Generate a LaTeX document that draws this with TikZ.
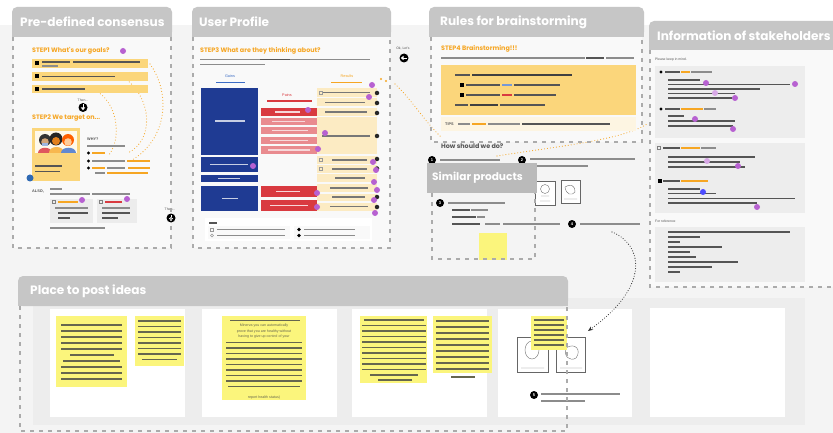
\documentclass[tikz,border=0pt]{standalone}
\usepackage{fontspec}
\setmainfont{Liberation Sans}
\newfontfamily\hfont{Poppins}
\usetikzlibrary{arrows.meta}

\definecolor{boardbg}{HTML}{F4F4F4}
\definecolor{paper}{HTML}{F9F9F9}
\definecolor{hdrgray}{HTML}{C6C6C6}
\definecolor{simgray}{HTML}{BABABA}
\definecolor{dashgray}{HTML}{ABABAB}
\definecolor{stepor}{HTML}{F6A623}
\definecolor{gold}{HTML}{FBD67B}
\definecolor{cream}{HTML}{FCEBC3}
\definecolor{tipcream}{HTML}{FDF5E2}
\definecolor{navy}{HTML}{1F3B93}
\definecolor{gainblue}{HTML}{3B6CC4}
\definecolor{redd}{HTML}{D93A40}
\definecolor{redl}{HTML}{E98B8F}
\definecolor{purp}{HTML}{B761D1}
\definecolor{sticky}{HTML}{FBF57C}
\definecolor{cardgray}{HTML}{ECECEC}
\definecolor{panelgray}{HTML}{EDEDED}
\definecolor{ink}{HTML}{66664E}
\definecolor{txt}{HTML}{8C8C8C}
\definecolor{txtd}{HTML}{555555}
\definecolor{dotblue}{HTML}{2F69B3}

% a blurred line of small print
\newcommand\tb[4][txt]{\fill[#1] (#2,{#3-0.95}) rectangle (#4,{#3+0.95});}
% grey frame tab with rounded top corners
\newcommand\hdrtab[5][hdrgray]{%
  \fill[#1,rounded corners=5pt] (#2,#3) rectangle (#4,#5);
  \fill[#1] (#2,{#3+10}) rectangle (#4,#5);}

\begin{document}
\begin{tikzpicture}[x=1pt,y=-1pt,
  hdrtxt/.style={text=white,anchor=west,inner sep=0pt,font=\hfont\bfseries\fontsize{12.1}{13}\selectfont},
  frame/.style={draw=dashgray,line width=1.3pt,dash pattern=on 4pt off 5pt},
  steptxt/.style={text=stepor,anchor=west,inner sep=0pt,font=\hfont\bfseries\fontsize{6.4}{7}\selectfont},
  tinytxt/.style={text=txtd,anchor=west,inner sep=0pt,font=\fontsize{3.4}{4}\selectfont},
  tinyb/.style={tinytxt,font=\bfseries\fontsize{3.8}{4}\selectfont},
  lbl/.style={inner sep=0pt,font=\fontsize{3.8}{4}\selectfont},
  pdot/.style={circle,fill=purp,inner sep=0pt,minimum size=6pt},
  kdot/.style={circle,fill=black,inner sep=0pt,minimum size=3.2pt},
  numdot/.style={circle,fill=black,inner sep=0pt,minimum size=8pt,text=white,font=\bfseries\fontsize{4}{4}\selectfont},
  odots/.style={draw=stepor,line width=1.1pt,dash pattern=on 0pt off 3pt,line cap=round},
  kdots/.style={draw=black!80,line width=1.1pt,dash pattern=on 0pt off 2.6pt,line cap=round},
  stick/.style={fill=sticky},
  card/.style={fill=white},
  sketch/.style={draw=black!60,fill=white,line width=.5pt}]
\useasboundingbox (0,0) rectangle (833,433);
\fill[white] (0,0) rectangle (833,433);
\fill[boardbg] (0,25) rectangle (833,433);

% ================= Pre-defined consensus =================
\fill[paper] (13,37) rectangle (171,248);
\hdrtab{12}{7}{172}{37}
\node[hdrtxt] (hPre) at (20,22) {Pre-defined consensus};

\draw[odots] (150,64) .. controls (172,95) and (166,140) .. (132,160);
\draw[odots] (127,80) .. controls (152,100) and (154,140) .. (128,153);
\draw[odots] (98,92) .. controls (118,105) and (122,140) .. (108,156);

\node[steptxt] (s1) at (32,51) {STEP1 What's our goals?};
\node[pdot] (p1) at (123,51) {};
\fill[gold] (32,59) rectangle (148,68);
\fill[gold] (32,72) rectangle (148,81);
\fill[gold] (32,85) rectangle (148,93);
\foreach \yy in {63.5,76.5,89}{\fill[black] (35,{\yy-2}) rectangle (39,{\yy+2});}
\tb[txtd]{42}{62}{70}\tb[txtd]{73}{62}{140}\tb{42}{66}{58}
\tb[txtd]{42}{76.5}{115}
\tb[txtd]{42}{89}{85}

\node[tinytxt,anchor=center] (then1) at (83,100) {Then...};
\node[circle,fill=black,minimum size=9pt,inner sep=0pt] (go1) at (83,107.5) {};
\draw[white,line width=.8pt] (83,104.5) -- (83,108);
\fill[white] (80.8,107.5) -- (85.2,107.5) -- (83,110.3) -- cycle;

\node[steptxt] (s2) at (32,118) {STEP2 We target on...};
\fill[gold] (32,128) rectangle (80,181);
% three people
\fill[white!85!gold] (35,131) rectangle (77,153);
\fill[redd!85] (38,153) .. controls (38,146) and (52,146) .. (52,153) -- cycle;
\fill[stepor!80] (49,153) .. controls (49,145) and (64,145) .. (64,153) -- cycle;
\fill[gainblue!80] (61,153) .. controls (61,146) and (76,146) .. (76,153) -- cycle;
\fill[black!80] (45,140) circle (6);
\fill[black!85] (56,139) circle (6.5);
\fill[orange!75!red] (68,140) circle (6);
\fill[brown!70] (45,142) circle (3.8);
\fill[brown!45!orange] (56,141) circle (4);
\fill[orange!40!white] (68,142) circle (3.8);
\fill[gainblue!50] (42,143) rectangle (48,146);
\tb[txtd]{35}{166}{62}\tb[txtd]{35}{171.5}{60}
\node[circle,fill=dotblue,inner sep=0pt,minimum size=7pt] (bd) at (30,178) {};

\node[tinyb,anchor=west] (why) at (87,139) {WHY?};
\tb{87}{146}{125}
\node[kdot] (w1) at (88.5,153) {};\tb[stepor]{92}{153}{105}
\node[kdot] (w2) at (88.5,161) {};\tb{92}{161}{125}\tb[stepor]{127}{161}{150}
\node[kdot] (w3) at (88.5,168) {};\tb[stepor]{92}{168}{105}\tb{107}{168}{125}\tb[stepor]{128}{168}{150}
\tb{95}{173}{105}\tb[stepor]{107}{173}{148}

\node[tinyb] (also) at (32,191) {ALSO,};
\tb{50}{189}{62}\tb{50}{194}{90}\tb{92}{194}{130}
\fill[cardgray] (50,199) rectangle (93,223);
\fill[cardgray] (97,199) rectangle (137,223);
\draw[black!50,line width=.4pt] (52.5,200.5) rectangle (55.5,203.5);
\draw[black!50,line width=.4pt] (99.5,200.5) rectangle (102.5,203.5);
\tb[stepor]{58}{202}{78}\tb[redd]{105}{202}{122}
\node[pdot] (p2) at (82,200) {};
\node[pdot] (p3) at (127,199) {};
\tb{55}{208}{88}\tb[txtd]{58}{213}{88}\tb[txtd]{58}{218}{70}
\tb{102}{208}{130}\tb[txtd]{102}{213}{130}\tb[txtd]{102}{218}{118}
\tb{50}{228}{105}

\node[tinytxt,anchor=center] (then2) at (170,209) {Then...};
\node[circle,fill=black,minimum size=9pt,inner sep=0pt] (go2) at (171,218) {};
\draw[white,line width=.8pt] (171,215) -- (171,218.5);
\fill[white] (168.8,218) -- (173.2,218) -- (171,220.8) -- cycle;

\draw[frame] (13,37) -- (13,248) -- (171,248) -- (171,37);

% ================= User Profile =================
\fill[paper] (193,37) rectangle (390,248);
\hdrtab{192}{7}{391}{37}
\node[hdrtxt] (hUser) at (199,22) {User Profile};

\node[steptxt] (s3) at (200,51) {STEP3 What are they thinking about?};
\tb{200}{59.5}{260}\tb[txtd]{260}{59.5}{290}\tb{290}{59.5}{370}\tb{200}{64.5}{265}

\node[lbl,text=gainblue] (gains) at (230,76) {Gains};
\tb[gainblue]{216}{82.5}{245}
\fill[navy] (201,88) rectangle (258,155);
\fill[navy] (201,157) rectangle (258,172);
\fill[navy] (201,175) rectangle (258,182);
\fill[navy] (201,186) rectangle (258,211);
\tb[white!75!navy]{215}{121}{245}
\tb[white!75!navy]{210}{164.5}{248}
\tb[white!75!navy]{218}{178.5}{240}
\tb[white!75!navy]{222}{198.5}{238}

\node[lbl,text=redd] (pains) at (287,95) {Pains};
\tb[redd]{267}{101}{312}
\fill[redd] (261,108) rectangle (317,116);
\foreach \ya/\yb in {118/125,127/134,137/144,146/154}{\fill[redl] (261,\ya) rectangle (317,\yb);}
\fill[redd] (261,186) rectangle (317,197);
\fill[redd] (261,200) rectangle (317,211);
\foreach \yy/\a/\b in {112/275/300,121.5/272/305,130.5/272/308,140.5/270/308,150/268/310,191.5/276/300,205.5/270/308}{\tb[white!80!redd]{\a}{\yy}{\b}}

\node[lbl,text=stepor] (results) at (347,76) {Results};
\tb[stepor]{331}{82.5}{362}
\foreach \ya/\yb in {88/97,98.5/106.5,108/116,117.5/154,156/164,165.5/173,174.5/182,184.5/192,193.5/201,202.5/210.5}{\fill[cream] (317,\ya) rectangle (377,\yb);}
\foreach \yy/\a/\b in {92.5/322/370,102.5/325/365,112/325/367,136/322/370,160/332/367,169/332/367,178/335/365,188/330/368,197/332/365,206.5/330/368}{\tb[txtd!80]{\a}{\yy}{\b}}
\foreach \yy in {92.5,160,169}{\draw[black!40,line width=.4pt] (319,{\yy-1.5}) rectangle (322,{\yy+1.5});}
\foreach \yy in {93,103,113,136,159,168.5,197,207}{\node[circle,fill=black!85,inner sep=0pt,minimum size=4.5pt] at (377,\yy) {};}
\foreach \px/\py in {372/85,369/97,308/110,325/133,253/166,373/162,376/170,374/182,377/190,374/200,375/213,317/193,317/207,318/149}{\node[pdot] at (\px,\py) {};}
\fill[stepor] (381,79) circle (1.1);\fill[stepor] (386,81) circle (1.1);

\fill[white] (205,218) rectangle (372,241);
\tb[txtd]{209}{223}{217}
\fill[paper] (208,226) rectangle (290,239);
\fill[paper] (294,226) rectangle (370,239);
\draw[black!40,line width=.4pt] (210.5,228) rectangle (213.5,231);
\draw[black!40,line width=.4pt] (212,235.5) circle (1.5);
\tb{217}{229.5}{285}\tb{217}{235.5}{285}
\node[kdot,minimum size=3.6pt] at (299,229.5) {};
\node[kdot,minimum size=3.6pt] at (299,235.5) {};
\tb{304}{229.5}{355}\tb{304}{235.5}{355}

\draw[frame] (193,37) -- (193,248) -- (390,248) -- (390,37);

\node[tinytxt,anchor=center] (ok) at (403,48) {Ok, Let's};
\node[circle,fill=black,minimum size=9pt,inner sep=0pt] (go3) at (404,58) {};
\draw[white,line width=.8pt] (406.5,58) -- (403,58);
\fill[white] (403.5,55.8) -- (403.5,60.2) -- (400.8,58) -- cycle;

% ================= Rules for brainstorming =================
\fill[paper] (431,37) rectangle (642,142);
\hdrtab{429}{7}{644}{37}
\node[hdrtxt] (hRules) at (440,22) {Rules for brainstorming};

\draw[odots] (395,84) .. controls (412,100) and (425,122) .. (442,138);
\draw[odots] (497,156) .. controls (560,146) and (622,140) .. (647,124);

\node[steptxt] (s4) at (441,49) {STEP4 Brainstorming!!!};
\tb{441}{58}{585}\tb[txtd]{586}{58}{604}\tb{606}{58}{634}
\fill[gold] (441,65) rectangle (636,115);
\tb[txtd]{455}{75}{470}\tb[black!75]{472}{75}{572}
\fill[black] (459.5,83) rectangle (463.5,87);
\tb[txtd]{466}{85}{500}\tb[gainblue!70]{502}{85}{512}\tb[txtd]{514}{85}{560}
\fill[black] (459.5,93) rectangle (463.5,97);
\tb[txtd]{466}{95}{500}\tb[redd]{502}{95}{512}\tb[txtd]{514}{95}{556}
\tb[txtd]{455}{105}{468}\tb[black!75]{470}{105}{498}\tb[txtd]{500}{105}{545}
\fill[tipcream] (441,117) rectangle (636,131);
\node[tinyb] (tips) at (445,124) {TIPS};
\tb{458}{124}{470}\tb[stepor]{472}{124}{486}\tb{488}{124}{520}\tb[txtd]{522}{124}{610}

\draw[frame] (431,37) -- (431,142) -- (642,142) -- (642,37);

\node[anchor=west,inner sep=0pt,text=txtd,font=\hfont\bfseries\fontsize{6.4}{7}\selectfont] (how) at (441,146) {How should we do?};
\node[numdot] (n1) at (432,160) {1};
\tb{440}{160}{500}
\node[numdot] (n2) at (522,160) {2};
\tb{530}{159}{635}\tb{530}{166}{588}

% two product sketches
\draw[sketch] (535,181) rectangle (555,205);
\draw[black!55,line width=.4pt] (545,189) circle (4.5) (541,196) -- (549,196) (540,201) -- (550,201);
\draw[sketch] (561,180) rectangle (580,203);
\draw[black!55,line width=.4pt] (565,187) .. controls (570,183) and (576,186) .. (575,192) .. controls (572,196) and (566,195) .. cycle (564,199) -- (577,199);

\node[numdot] (n4) at (572,224) {4};
\tb{580}{224}{640}
\coordinate (arrStart) at (612,232);
\coordinate (arrEnd) at (588,331);

% ================= Similar products =================
\fill[simgray] (427,163) rectangle (537,193);
\node[hdrtxt,font=\hfont\bfseries\fontsize{10.6}{11}\selectfont] (hSim) at (432,178) {Similar products};
\node[numdot] (n3) at (440,203) {3};
\tb{448}{203}{505}
\tb[txtd]{452}{210}{470}\tb{471}{210}{488}
\tb[txtd]{452}{217}{476}\tb{477}{217}{485}
\tb[txtd]{452}{224}{480}\tb{485}{224}{500}\tb{503}{224}{560}
\fill[sticky] (479,233) rectangle (507,260);
\draw[frame] (432,193) -- (432,259) -- (535,259) -- (535,193);

% ================= Information of stakeholders =================
\fill[paper] (650,50) rectangle (833,287);
\hdrtab{649}{21}{845}{50}
\node[hdrtxt] (hInfo) at (657,36) {Information of stakeholders};
\node[tinytxt] (keep) at (655,60) {Please keep in mind.};
\fill[panelgray] (655,66) rectangle (805,138);
\fill[panelgray] (655,143) rectangle (805,213);
\node[tinytxt] (forref) at (655,221) {For reference};
\fill[panelgray] (655,227) rectangle (805,282);

\node[kdot] at (661,72) {};
\tb[txtd]{665}{72}{680}\tb[stepor]{681}{72}{690}\tb{691}{72}{712}
\foreach \yy/\b in {80/700,84.5/790,89/760,93.5/735,98/732}{\tb[txtd]{668}{\yy}{\b}}
\node[kdot] at (661,109) {};
\tb[txtd]{665}{109}{680}\tb[stepor]{681}{109}{703}\tb{704}{109}{716}
\foreach \yy/\b in {116/684,121/735,126/733}{\tb[txtd]{668}{\yy}{\b}}
\foreach \px/\py in {706/83,795/84,735/98,695/119,733/129}{\node[pdot] at (\px,\py) {};}
\node[pdot,fill=purp!55] at (715,93) {};

\draw[black!50,line width=.4pt] (657.5,146.5) rectangle (660.5,149.5);
\tb[txtd]{663}{148}{680}\tb[stepor]{681}{148}{700}\tb{701}{148}{716}
\foreach \yy/\b in {157/755,162/740,167/745}{\tb[txtd]{668}{\yy}{\b}}
\node[pdot,fill=purp!55] at (707,161) {};
\node[pdot] at (738,166) {};
\fill[black] (658,179.5) rectangle (661.5,183);
\tb[txtd]{663}{181}{680}\tb[stepor]{681}{181}{708}
\foreach \yy/\b in {189/700,193.5/716,198.5/795,203/757}{\tb[txtd]{668}{\yy}{\b}}
\node[circle,fill=blue!70,inner sep=0pt,minimum size=6pt] at (703,192) {};
\node[pdot] at (757,207) {};

\foreach \yy/\b in {232/790,237/700,242/680,247/722,252/690,257/696,262/738,267/712,272/680}{\tb[txtd]{668}{\yy}{\b}}

\draw[frame] (650,50) -- (650,287) -- (833,287);

% ================= Place to post ideas =================
\fill[panelgray] (33,298) rectangle (805,425);
\hdrtab{18}{276}{568}{306}
\node[hdrtxt] (hPost) at (30,291) {Place to post ideas};

\fill[card] (50,309) rectangle (185,417);
\fill[card] (202,309) rectangle (337,417);
\fill[card] (352,309) rectangle (487,417);
\fill[card] (498,309) rectangle (632,417);
\fill[card] (650,308) rectangle (785,417);

% note by Lily
\fill[stick] (56,316) rectangle (127,387);
\foreach \yy/\a/\b in {325/61/122,331/61/122,337/61/122,343/61/122,349/61/122,355/70/114,361/63/120,367/61/122,373/61/122,379/61/122}{\tb[ink]{\a}{\yy}{\b}}
% note by Emma (1)
\fill[stick] (135,316) rectangle (184,366);
\foreach \yy/\a/\b in {321/138/181,326.5/138/181,332/138/181,337.5/138/181,343/138/181,348.5/138/181,354/138/181,359.5/142/177}{\tb[ink]{\a}{\yy}{\b}}
% note by Emma (2)
\fill[stick] (222,316) rectangle (306,400);
\tb[ink]{230}{320.5}{300}
\node[lbl,text=ink,font=\fontsize{3.6}{4}\selectfont] (c2) at (264,326) {Minerva you can automatically};
\node[lbl,text=ink,font=\fontsize{3.6}{4}\selectfont] (c3) at (264,331.5) {prove that you are healthy without};
\node[lbl,text=ink,font=\fontsize{3.6}{4}\selectfont] (c4) at (264,337) {having to give up control of your};
\foreach \yy/\a/\b in {342.5/226/302,348/226/302,353.5/226/302,359/226/302,364.5/226/302,370/226/302,375.5/226/302,381/226/302,386.5/228/300}{\tb[ink]{\a}{\yy}{\b}}
\node[lbl,text=ink,font=\fontsize{3.6}{4}\selectfont] (c5) at (264,398) {report health status)};
% note by Emma (3)
\fill[stick] (360,316) rectangle (427,383);
\foreach \yy/\a/\b in {320/364/424,325.5/362/426,331/362/426,336.5/362/426,342/362/426,347.5/362/426,353/362/426,358.5/362/426,364/362/426,369.5/362/426,375/370/418,380/378/412}{\tb[ink]{\a}{\yy}{\b}}
% note by Emma (4)
\fill[stick] (433,316) rectangle (492,373);
\foreach \yy/\a/\b in {321/436/489,327/436/489,333/436/489,339/436/489,345/436/489,351/436/489,357/436/489,363/436/489,369/436/489}{\tb[ink]{\a}{\yy}{\b}}
\tb[ink]{451}{377}{475}

% sketches with a note on top
\draw[sketch] (517,337) rectangle (548,372);
\draw[black!55,line width=.4pt] (532,350) ellipse (7 and 9) (521,368) -- (544,368);
\draw[sketch] (556,337) rectangle (585,372);
\draw[black!55,line width=.4pt] (566,348) .. controls (575,342) and (582,350) .. (576,358) .. controls (570,362) and (563,356) .. cycle (560,368) -- (582,368);
\fill[stick] (531,316) rectangle (567,350);
\foreach \yy in {320,325,330,335,340,345}{\tb[ink]{534}{\yy}{564}}
\node[numdot] (n5) at (534,395) {5};
\tb{541}{394}{620}\tb{541}{401}{585}

\draw[frame] (20,306) -- (20,431) -- (567,431) -- (567,306);

% dotted pointer from step 4 down to the posted sketches
\draw[kdots,-{Stealth[length=5pt,width=4pt]}] (arrStart) .. controls (642,244) and (652,285) .. (arrEnd);

\end{tikzpicture}
\end{document}
